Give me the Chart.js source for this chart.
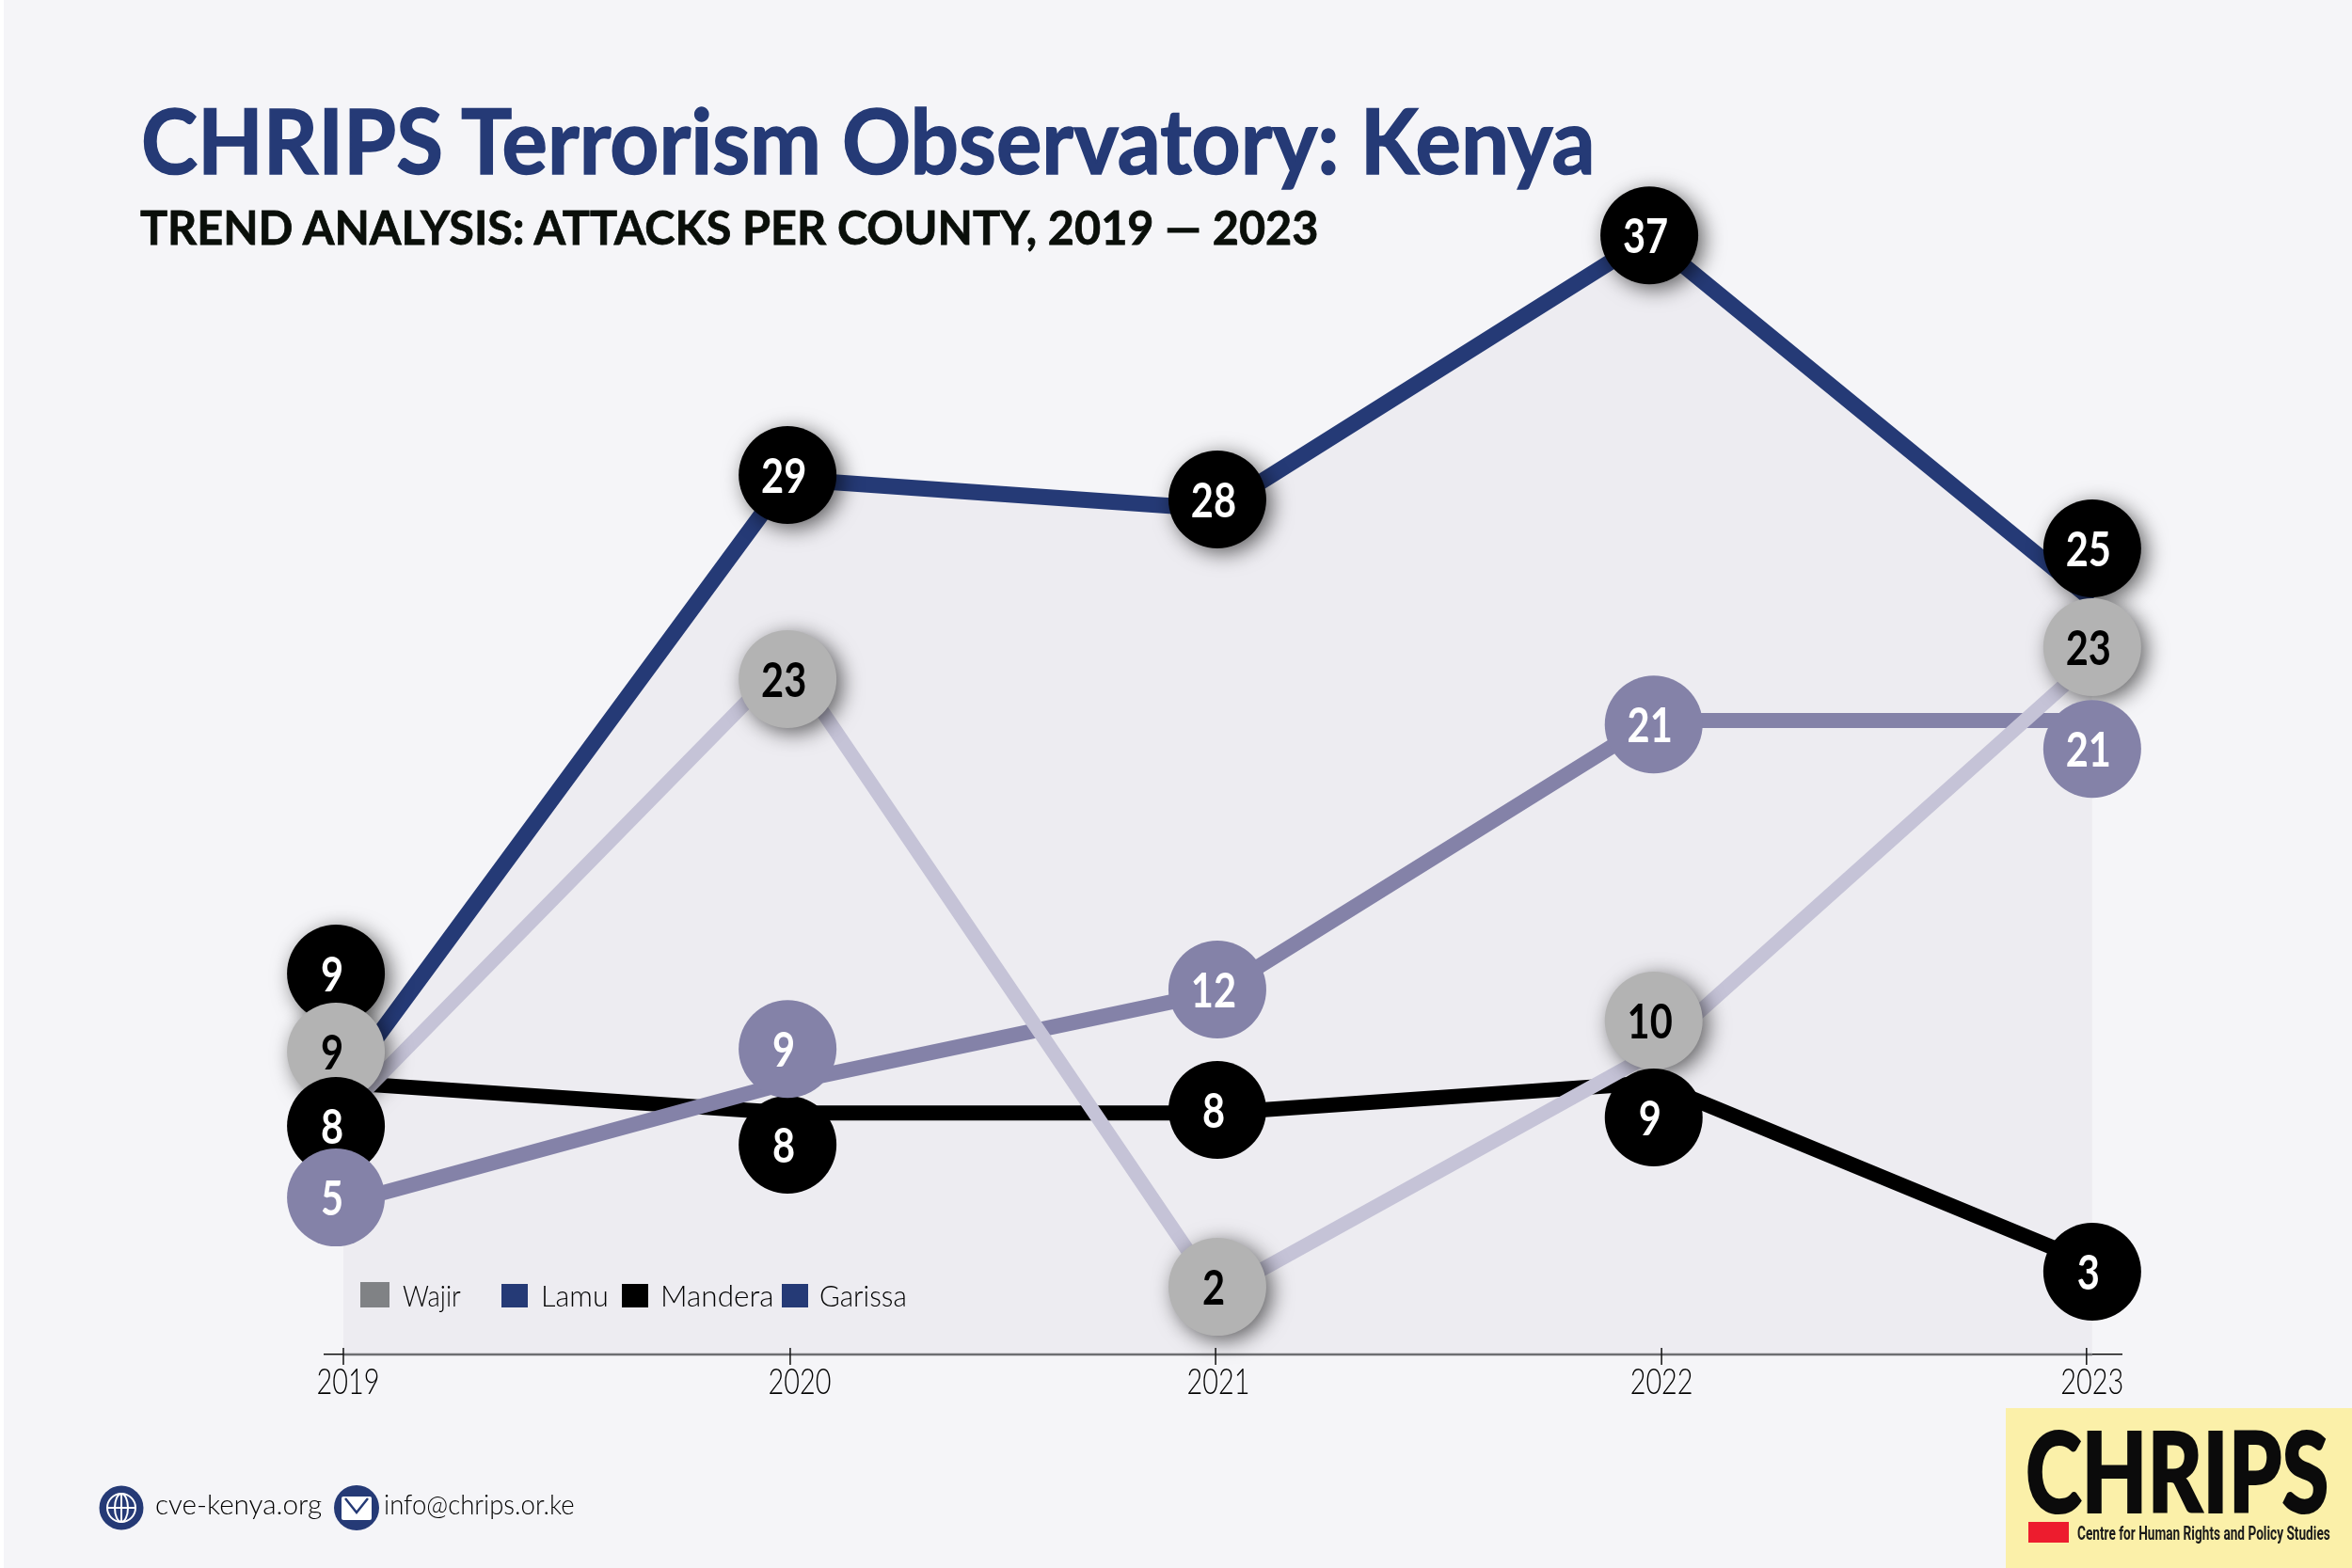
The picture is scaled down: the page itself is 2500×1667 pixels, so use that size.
<!DOCTYPE html>
<html>
<head>
<meta charset="utf-8">
<title>CHRIPS Terrorism Observatory: Kenya</title>
<script src="https://cdn.jsdelivr.net/npm/chart.js@4"></script>
<style>
  html, body { margin: 0; padding: 0; background: #fff; }
  #page { position: relative; width: 2500px; height: 1667px; overflow: hidden; background: #fff; }
  #panel { position: absolute; left: 4px; top: 0; right: 0; bottom: 0; background: #f5f5f8; }
  #myChart { position: absolute; left: 0; top: 0; }
  .txt { position: absolute; white-space: nowrap; transform-origin: 0 50%; line-height: 1; font-family: Lato, sans-serif; }
  .swatch { position: absolute; }
  #logo { position: absolute; left: 2132px; top: 1497px; width: 368px; height: 170px; background: #fbf0a9; }
  #logoRed { position: absolute; left: 2156px; top: 1618px; width: 43px; height: 22px; background: #ed1c2e; }
  .icon { position: absolute; }
</style>
</head>
<body>
<div id="page">
  <div id="panel"></div>
  <canvas id="myChart" width="2500" height="1667"></canvas>
  <div class="txt" data-w="1546" style="left:150px;top:100px;font-size:96px;font-weight:700;color:#253a76;-webkit-text-stroke:1.5px #253a76">CHRIPS Terrorism Observatory: Kenya</div>
  <div class="txt" data-w="1252" style="left:149px;top:216px;font-size:50px;font-weight:700;color:#0a0f0a;-webkit-text-stroke:0.8px #0a0f0a">TREND ANALYSIS: ATTACKS PER COUNTY, 2019 — 2023</div>
  <div id="legend"></div>
  <svg class="icon" style="left:105px;top:1579px" width="48" height="48" viewBox="0 0 48 48">
    <circle cx="24" cy="24" r="23.5" fill="#253a76"/>
    <g fill="none" stroke="#fff" stroke-width="2">
      <circle cx="24" cy="24" r="15"/>
      <ellipse cx="24" cy="24" rx="7" ry="15"/>
      <path d="M9 24H39M24 9V39"/>
    </g>
  </svg>
  <svg class="icon" style="left:355px;top:1579px" width="48" height="48" viewBox="0 0 48 48">
    <circle cx="24" cy="24" r="24" fill="#253a76"/>
    <rect x="8" y="12" width="32" height="25" rx="2" fill="#fff"/>
    <path d="M12 14L24 29L36 14" fill="none" stroke="#253a76" stroke-width="2.5"/>
  </svg>
  <div class="txt" data-w="177" style="left:165px;top:1583px;font-size:30px;font-weight:300;color:#000">cve-kenya.org</div>
  <div class="txt" data-w="203" style="left:408px;top:1583px;font-size:30px;font-weight:300;color:#000">info@chrips.or.ke</div>
  <div id="logo"></div>
  <div id="logoRed"></div>
  <div class="txt" data-w="322" style="left:2153px;top:1504px;font-size:118px;font-weight:900;color:#0b0b0b;-webkit-text-stroke:2px #0b0b0b">CHRIPS</div>
  <div class="txt" data-w="269" style="left:2208px;top:1620px;font-size:21px;font-weight:700;font-family:Roboto;color:#1a1a1a">Centre for Human Rights and Policy Studies</div>
</div>
<script>
var years = [2019, 2020, 2021, 2022, 2023];
var tickLabels = ['2019', '2020', '2021', '2022', '2023'];
var counties = ['Wajir', 'Lamu', 'Mandera', 'Garissa'];

// what the lines do. mandera starts on 9 and wajir on 8 in the picture
var lamuLine = [9, 29, 28, 37, 25];
var wajirLine = [8, 23, 2, 10, 23];
var manderaLine = [9, 8, 8, 9, 3];
var garissaLine = [5, 9, 12, 21, 21];

// what the circles say
var lamuPrinted = [9, 29, 28, 37, 25];
var wajirPrinted = [9, 23, 2, 10, 23];
var manderaPrinted = [8, 8, 8, 9, 3];
var garissaPrinted = [5, 9, 12, 21, 21];

// the artwork moves the circles off the line so they dont sit on each other (y units)
var lamuShift = [3.62, 0.13, 0.32, 0.07, 1.7];
var wajirShift = [2.03, -0.63, 0.24, 1.06, 0.43];
var manderaShift = [-1.43, -1.05, 0.1, -1.15, -0.26];
var garissaShift = [0.2, 1.12, 0.09, -0.13, -0.94];

// the year spacing in the artwork is hand placed, not quite even
var lineYears = [2019, 2020.016, 2020.999, 2021.997, 2023];
var lamuYears = [2019, 2020.016, 2020.999, 2021.987, 2023];
var circleYears = [2018.983, 2020.016, 2020.999, 2021.997, 2023];
var lamuCircleYears = [2018.983, 2020.016, 2020.999, 2021.987, 2023];
var tickYears = [2019, 2020.022, 2020.995, 2022.015, 2022.987];
var tickLabelShift = [5, 10, 3, 0, 6];

var legendColors = ['#808285', '#253a76', '#000000', '#253a76'];
var legendSwatchX = [383, 533, 661, 831];
var legendTextX = [428, 575, 702, 871];
var legendTextW = [62, 72, 121, 93];

function linePoints(values, xs) {
  return values.map(function (v, i) { return { x: xs[i], y: v }; });
}
function circlePoints(values, shift, xs) {
  return values.map(function (v, i) { return { x: xs[i], y: v + shift[i] }; });
}
function lineSet(values, xs, color, width, order) {
  return { data: linePoints(values, xs), showLine: true, borderColor: color, borderWidth: width, pointRadius: 0, tension: 0, clip: false, order: order };
}
function circleSet(values, shift, xs, printed, color, textColor, order, shadow) {
  return { data: circlePoints(values, shift, xs), printed: printed, textColor: textColor, shadow: shadow, showLine: false,
    pointRadius: 52, pointHoverRadius: 52, pointBorderWidth: 0, pointBackgroundColor: color, clip: false, order: order };
}

var circleStuff = {
  id: 'circleStuff',
  beforeDatasetDraw: function (chart, args) {
    if (chart.data.datasets[args.index].shadow) {
      var ctx = chart.ctx;
      ctx.save();
      ctx.shadowColor = 'rgba(0,0,0,0.6)';
      ctx.shadowBlur = 22;
      ctx.shadowOffsetX = 6;
      ctx.shadowOffsetY = 5;
    }
  },
  afterDatasetDraw: function (chart, args) {
    if (chart.data.datasets[args.index].shadow) chart.ctx.restore();
  },
  afterDatasetsDraw: function (chart) {
    var ctx = chart.ctx;
    chart.data.datasets.forEach(function (ds, idx) {
      if (!ds.printed) return;
      chart.getDatasetMeta(idx).data.forEach(function (pt, i) {
        ctx.save();
        ctx.translate(pt.x - 4, pt.y + 2);
        ctx.scale(0.8, 1);
        ctx.font = 'bold 52px Lato';
        ctx.fillStyle = ds.textColor;
        ctx.textAlign = 'center';
        ctx.textBaseline = 'middle';
        ctx.fillText(String(ds.printed[i]), 0, 0);
        ctx.restore();
      });
    });
    // tick marks go through the axis line, labels are squeezed like the artwork
    var xs = chart.scales.x;
    ctx.save();
    ctx.strokeStyle = '#111';
    ctx.lineWidth = 1.5;
    tickYears.forEach(function (y, i) {
      var px = xs.getPixelForValue(y);
      ctx.beginPath();
      ctx.moveTo(px, xs.top - 7);
      ctx.lineTo(px, xs.top + 11);
      ctx.stroke();
      ctx.save();
      ctx.translate(px + tickLabelShift[i], xs.top + 30);
      ctx.scale(0.78, 1);
      ctx.font = '300 37px Lato';
      ctx.fillStyle = '#000';
      ctx.textAlign = 'center';
      ctx.textBaseline = 'middle';
      ctx.fillText(tickLabels[i], 0, 0);
      ctx.restore();
    });
    ctx.restore();
  }
};

var ctx = document.getElementById('myChart');
var myChart = new Chart(ctx, {
  type: 'scatter',
  data: {
    datasets: [
      { data: linePoints(lamuLine, lamuYears), showLine: true, borderWidth: 0, pointRadius: 0, tension: 0, fill: 'origin', backgroundColor: '#edecf1', order: 20 },
      { data: [{ x: 2019, y: 0 }, { x: 2023, y: 0 }], showLine: true, borderColor: '#6d6e71', borderWidth: 2.5, pointRadius: 0, clip: false, order: 19 },
      lineSet(lamuLine, lamuYears, '#253a76', 17, 18),
      lineSet(manderaLine, lineYears, '#000000', 16, 17),
      lineSet(garissaLine, lineYears, '#8482a8', 16, 16),
      lineSet(wajirLine, lineYears, '#c5c3d7', 15, 15),
      circleSet(lamuLine, lamuShift, lamuCircleYears, lamuPrinted, '#000000', '#ffffff', 9, true),
      circleSet(wajirLine, wajirShift, circleYears, wajirPrinted, '#b3b3b3', '#000000', 8, true),
      circleSet(manderaLine, manderaShift, circleYears, manderaPrinted, '#000000', '#ffffff', 7, false),
      circleSet(garissaLine, garissaShift, circleYears, garissaPrinted, '#8482a8', '#ffffff', 6, false)
    ]
  },
  options: {
    responsive: false,
    animation: false,
    devicePixelRatio: 1,
    events: [],
    layout: { padding: { left: 345, right: 245, top: 92, bottom: 177 } },
    plugins: { legend: { display: false }, tooltip: { enabled: false } },
    scales: {
      x: {
        type: 'linear',
        min: 2018.957,
        max: 2023.067,
        afterFit: function (scale) { scale.height = 50; },
        grid: { display: false },
        border: { display: true, color: '#111', width: 1.5 },
        ticks: { display: false }
      },
      y: { display: false, min: 0, max: 42 }
    }
  },
  plugins: [circleStuff]
});

// hand placed legend
var legend = document.getElementById('legend');
counties.forEach(function (name, i) {
  var s = document.createElement('div');
  s.className = 'swatch';
  s.style.cssText = 'left:' + legendSwatchX[i] + 'px;top:' + (i === 0 ? 1363 : 1365) + 'px;width:' + (i === 0 ? 31 : 28) + 'px;height:' + (i === 0 ? 27 : 25) + 'px;background:' + legendColors[i];
  legend.appendChild(s);
  var t = document.createElement('div');
  t.className = 'txt';
  t.dataset.w = legendTextW[i];
  t.style.cssText = 'left:' + legendTextX[i] + 'px;top:1362px;font-size:31px;font-weight:300;color:#000';
  t.textContent = name;
  legend.appendChild(t);
});

// squeeze the text to the width it has in the artwork
document.querySelectorAll('.txt').forEach(function (el) {
  el.style.transform = 'scaleX(' + (el.dataset.w / el.offsetWidth) + ')';
});
</script>
</body>
</html>
